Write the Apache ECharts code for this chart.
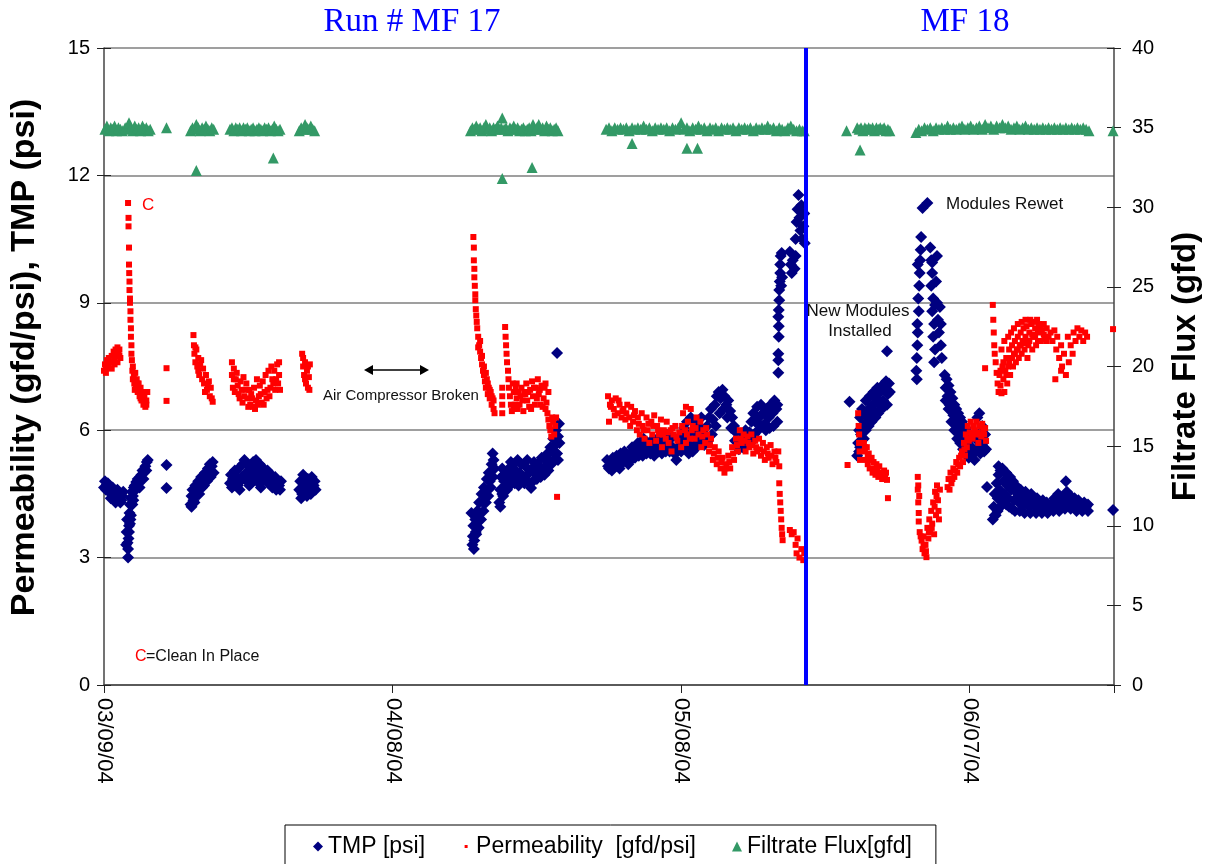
<!DOCTYPE html>
<html>
<head>
<meta charset="utf-8">
<title>MF 17 / MF 18 membrane run</title>
<script src="https://cdn.jsdelivr.net/npm/echarts@6/dist/echarts.min.js"></script>
<style>
  html, body { margin: 0; padding: 0; background: #fff; }
  #chart { width: 1210px; height: 864px; }
</style>
</head>
<body>
<div id="chart"></div>
<script>
// Day offsets are counted from 03/09/04.
const xTickLabels = ['03/09/04', '04/08/04', '05/08/04', '06/07/04'];
const xTickStepDays = 30;
const xMaxDay = 105;
const newModulesDay = 73;

// TMP [psi]: [day, psi]
const tmpData = [
  [0.0,4.65],[0.2,4.6],[0.3,4.72],[0.5,4.55],[0.6,4.68],[0.8,4.5],[1.0,4.58],[1.1,4.45],[1.3,4.52],[1.5,4.4],[1.6,4.5],[1.8,4.35],[1.9,4.45],
  [0.1,4.8],[0.4,4.75],[0.7,4.4],[0.9,4.65],[1.2,4.3],[1.4,4.6],[1.7,4.3],[2.0,4.55],
  [2.3,3.3],[2.35,3.6],[2.4,3.9],[2.5,3.0],[2.5,3.2],[2.55,3.45],[2.6,3.75],[2.65,4.05],[2.7,4.25],[2.75,3.9],[2.8,4.4],[2.9,4.55],[3.0,4.45],[3.1,4.65],[3.2,4.7],[3.35,4.78],[3.5,4.85],[3.6,4.75],[3.75,4.9],[3.9,4.95],[4.0,5.05],[4.15,5.0],[4.3,5.15],[4.45,5.25],[4.55,5.3],
  [2.45,3.35],[2.6,3.6],[2.7,3.8],[2.8,4.0],[2.95,4.25],[3.05,4.35],[3.3,4.6],[3.7,4.65],[4.1,4.85],[4.4,5.05],
  [6.5,5.18],[6.5,4.64],
  [9.0,4.25],[9.1,4.45],[9.2,4.6],[9.3,4.35],[9.4,4.5],[9.5,4.7],[9.7,4.6],[9.8,4.8],[10.0,4.7],[10.1,4.9],[10.3,4.85],[10.5,5.0],[10.6,4.95],[10.8,5.1],[11.0,5.2],[11.2,5.15],[11.4,5.0],
  [9.1,4.2],[9.4,4.3],[9.6,4.45],[9.9,4.5],[10.2,4.65],[10.4,4.7],[10.7,4.8],[10.9,4.95],[11.1,4.9],[11.3,5.25],
  [13.1,4.75],[13.2,4.95],[13.4,4.85],[13.5,4.7],[13.6,5.05],[13.8,4.9],[14.0,5.1],[14.2,4.8],[14.4,5.2],[14.6,5.3],[14.8,5.0],[14.9,4.8],[15.0,5.15],[15.2,4.95],[15.3,4.75],[15.5,5.25],[15.6,5.1],[15.8,5.3],[16.0,5.0],[16.2,5.2],[16.4,4.9],[16.6,5.1],[16.8,4.95],[16.9,4.8],[17.0,5.05],[17.2,4.85],[17.4,4.95],[17.6,4.8],[17.8,4.9],[18.0,4.75],[18.2,4.7],[18.4,4.8],
  [13.3,4.65],[13.9,4.7],[14.1,4.6],[14.3,4.9],[14.7,4.85],[15.1,4.7],[15.4,4.9],[15.7,4.85],[16.1,4.75],[16.3,4.65],[16.5,4.8],[17.1,4.75],[17.5,4.65],[17.9,4.6],[18.3,4.6],
  [20.3,4.6],[20.4,4.8],[20.6,4.5],[20.7,4.95],[20.9,4.7],[21.0,4.55],[21.2,4.85],[21.4,4.65],[21.6,4.9],[21.8,4.7],[22.0,4.6],
  [20.5,4.4],[20.8,4.6],[21.1,4.45],[21.5,4.5],[21.9,4.8],
  [38.2,4.05],[38.3,3.3],[38.35,3.5],[38.4,3.75],[38.5,3.4],[38.6,3.9],[38.65,3.6],[38.8,4.1],[38.9,3.85],[39.0,4.3],[39.1,4.05],[39.25,4.5],[39.4,4.3],[39.5,4.65],[39.6,4.45],[39.8,4.85],[39.9,4.6],[40.0,5.0],[40.1,4.8],[40.3,5.2],[40.4,5.45],[40.5,5.3],
  [38.45,3.2],[38.7,3.55],[38.95,3.7],[39.2,3.9],[39.45,4.1],[39.7,4.3],[39.95,4.45],[40.2,4.65],[40.45,4.9],[40.6,5.1],
  [41.1,4.3],[41.2,4.6],[41.3,4.9],[41.4,5.1],[41.5,4.45],[41.7,4.7],[41.8,5.0],[42.0,4.8],[42.1,5.1],[42.3,5.25],[42.5,4.95],[42.6,5.2],[42.8,5.05],[43.0,5.3],[43.2,5.0],[43.4,5.2],[43.6,4.9],[43.8,5.15],[44.0,5.3],[44.2,5.0],[44.4,4.64],[44.5,5.1],[44.7,5.25],[44.9,4.95],[45.1,5.2],[45.3,5.05],[45.5,5.35],[45.7,5.1],[45.9,5.3],[46.1,5.45],[46.3,5.3],[46.4,5.6],[46.6,5.5],[46.7,5.8],[46.9,5.65],[47.0,6.0],[47.1,5.45],[47.2,5.85],[47.3,6.15],[47.1,7.82],
  [41.2,4.2],[41.4,4.5],[41.6,4.8],[41.9,4.6],[42.2,4.7],[42.4,4.9],[42.7,4.75],[42.9,4.85],[43.1,4.7],[43.3,4.85],[43.7,4.75],[44.1,4.8],[44.6,4.8],[45.0,4.85],[45.4,4.9],[45.8,4.95],[46.0,5.1],[46.2,5.05],[46.5,5.2],[46.8,5.3],[47.2,5.3],[47.35,5.7],
  [52.3,5.3],[52.5,5.1],[52.7,5.2],[52.9,5.35],[53.1,5.2],[53.3,5.4],[53.5,5.25],[53.7,5.45],[53.9,5.3],[54.1,5.5],[54.3,5.35],[54.5,5.2],[54.7,5.45],[54.9,5.6],[55.1,5.4],[55.3,5.55],[55.5,5.7],[55.7,5.5],[55.9,5.65],[56.1,5.8],[56.3,5.55],[56.5,5.7],[56.7,5.6],[56.9,5.75],[57.1,5.5],[57.3,5.65],[57.5,5.8],[57.7,5.6],[57.9,5.75],[58.1,5.55],[58.3,5.7],[58.5,5.9],[58.7,5.65],[58.9,5.8],[59.1,5.6],[59.3,5.45],[59.5,5.3],[59.7,5.6],[59.9,5.75],[60.1,5.9],[60.3,6.05],[60.5,5.8],[60.7,5.6],[60.9,5.9],[61.1,5.7],[61.3,5.95],[61.5,6.15],[61.7,5.85],[61.9,6.1],[62.1,6.3],[62.3,6.0],[62.5,5.8],[62.7,6.1],[62.9,6.3],[63.1,6.5],[63.3,6.25],[63.5,6.6],[63.7,6.8],[63.9,6.9],[64.1,6.75],[64.3,6.95],[64.5,6.8],[64.7,6.6],[64.9,6.7],[65.1,6.45],[65.3,6.3],[65.5,6.1],[65.7,5.95],[65.9,5.8],[66.1,5.7],[66.3,5.9],[66.5,5.75],[66.7,6.0],[66.9,5.8],[67.1,5.95],[67.3,6.2],[67.5,6.4],[67.7,6.2],[67.9,6.55],[68.1,6.3],[68.3,6.6],[68.5,6.4],[68.7,6.15],[68.9,6.5],[69.1,6.3],[69.3,6.6],[69.5,6.4],[69.7,6.7],[69.9,6.5],[70.0,6.2],
  [52.4,5.15],[52.8,5.05],[53.2,5.15],[53.6,5.1],[54.0,5.25],[54.4,5.3],[54.8,5.3],[55.2,5.35],[55.6,5.4],[56.0,5.4],[56.4,5.45],[56.8,5.45],[57.2,5.4],[57.6,5.5],[58.0,5.45],[58.4,5.5],[58.8,5.5],[59.2,5.55],[59.6,5.5],[60.0,5.5],[60.4,5.6],[60.6,6.2],[60.8,5.45],[61.0,6.3],[61.2,5.5],[61.6,5.6],[62.0,5.7],[62.4,5.65],[62.8,5.75],[63.2,5.9],[63.6,6.1],[64.0,6.4],[64.4,6.5],[64.8,6.3],[65.2,6.05],[65.6,5.75],[66.0,5.55],[66.4,5.6],[66.8,5.65],[67.2,5.7],[67.6,5.9],[68.0,6.0],[68.4,6.1],[68.8,6.0],[69.2,6.05],[69.6,6.1],[70.0,6.6],
  [70.1,7.35],[70.1,7.65],[70.1,7.8],[70.15,8.2],[70.15,8.45],[70.1,8.67],[70.15,8.83],[70.2,9.06],[70.2,9.3],[70.25,9.5],[70.3,9.7],[70.3,9.9],[70.35,10.1],[70.45,10.17],[70.5,9.6],[70.4,9.4],
  [71.3,10.2],[71.4,9.9],[71.5,9.7],[71.6,10.0],[71.8,9.8],[71.9,10.1],
  [71.9,10.5],[72.0,10.9],[72.1,11.2],[72.2,11.54],[72.3,11.0],[72.4,10.7],[72.5,11.3],[72.6,10.5],[72.7,10.8],[72.8,11.1],[72.85,10.4],
  [77.5,6.67],
  [78.3,5.4],[78.4,5.7],[78.5,6.0],[78.5,5.5],[78.6,6.3],[78.7,5.9],[78.8,6.5],[78.9,6.1],[79.0,5.8],[79.1,6.4],[79.2,6.7],[79.3,6.2],[79.5,6.5],[79.6,6.8],[79.7,6.3],[79.9,6.6],[80.0,6.9],[80.1,6.45],[80.3,6.75],[80.4,7.0],[80.6,6.6],[80.7,6.9],[80.9,7.05],[81.0,6.7],[81.2,6.95],[81.3,7.15],[81.5,6.85],[81.6,7.1],[81.4,7.86],
  [78.6,5.6],[78.9,5.8],[79.2,6.0],[79.5,6.1],[79.8,6.2],[80.2,6.3],[80.5,6.4],[80.8,6.5],[81.1,6.55],[81.4,6.6],[81.7,6.9],
  [84.5,7.2],[84.45,7.4],[84.5,7.7],[84.55,8.0],[84.6,8.3],[84.55,8.5],[84.7,8.8],[84.65,9.1],[84.75,9.4],[84.8,9.7],[84.85,10.0],[84.9,10.25],[84.95,10.55],[84.6,9.9],[85.1,11.23],[85.6,11.35],
  [85.9,10.3],[86.0,10.0],[86.1,9.7],[86.0,9.4],[86.2,9.1],[86.1,8.8],[86.3,8.5],[86.2,8.2],[86.4,7.9],[86.3,7.6],[86.5,9.5],[86.6,9.0],[86.7,8.6],[86.8,8.3],[86.6,10.1],[86.9,8.9],[87.0,8.0],[87.1,7.7],[87.0,8.5],[86.4,8.95],[86.1,9.95],
  [87.4,7.3],[87.5,7.0],[87.6,7.2],[87.7,6.8],[87.8,7.05],[87.9,6.6],[88.0,6.9],[88.1,6.5],[88.2,6.75],[88.3,6.35],[88.4,6.6],[88.5,6.2],[88.6,6.5],[88.7,6.1],[88.8,6.4],[88.9,6.0],[89.0,6.3],[89.1,5.9],[89.2,6.2],[89.3,5.8],[89.4,6.1],[89.5,5.75],[89.6,6.05],[89.7,5.7],[89.8,5.95],[89.9,5.6],[90.0,5.9],[90.2,5.6],[90.3,5.85],[90.4,5.5],[90.6,5.8],[90.7,5.55],[90.8,6.3],[90.9,5.9],[91.0,6.4],[91.0,5.6],[91.2,5.85],[91.3,6.1],[91.4,5.7],[91.5,5.5],[91.6,5.9],[91.8,4.66],
  [87.5,6.7],[87.8,6.5],[88.1,6.2],[88.4,6.0],[88.7,5.8],[89.0,5.7],[89.3,5.55],[89.6,5.5],[89.9,5.35],[90.2,5.4],[90.5,5.3],[91.1,5.45],[91.4,5.6],[91.7,5.55],
  [92.4,3.9],[92.5,4.2],[92.6,4.5],[92.7,4.0],[92.8,4.75],[92.9,4.4],[93.0,4.95],[93.1,4.6],[93.2,5.05],[93.3,4.35],[93.4,5.1],[93.5,4.8],[93.6,4.5],[93.8,5.0],[93.9,4.7],[94.0,4.4],[94.2,4.9],[94.3,4.6],[94.5,4.8],[94.6,4.35],[94.8,4.7],[95.0,4.5],[95.1,4.3],[95.3,4.6],[95.5,4.4],[95.6,4.25],[95.8,4.55],[96.0,4.35],[96.2,4.2],[96.4,4.5],[96.6,4.3],[96.8,4.2],[97.0,4.4],[97.2,4.25],[97.4,4.15],[97.6,4.35],[97.8,4.2],[98.0,4.3],[98.2,4.15],[98.4,4.25],[98.6,4.2],[98.8,4.4],[99.0,4.25],[99.2,4.5],[99.4,4.3],[99.6,4.2],[99.8,4.4],[100.0,4.8],[100.1,4.55],[100.3,4.3],[100.5,4.45],[100.7,4.25],[100.9,4.4],[101.1,4.2],[101.3,4.35],[101.5,4.25],[101.7,4.15],[101.9,4.3],[102.1,4.2],[102.3,4.25],
  [92.6,4.0],[92.9,4.1],[93.0,5.15],[93.2,4.2],[93.5,4.3],[93.7,5.0],[93.8,4.25],[94.1,4.2],[94.4,4.15],[94.7,4.1],[95.2,4.1],[95.7,4.05],[96.3,4.05],[96.9,4.05],[97.5,4.05],[98.1,4.05],[98.7,4.1],[99.3,4.1],[99.9,4.15],[100.5,4.15],[101.1,4.1],[101.7,4.1],[102.3,4.1],
  [104.9,4.12]
];

// Permeability [gfd/psi]: [day, gfd/psi]
const permData = [
  [0.0,7.4],[0.1,7.55],[0.2,7.45],[0.3,7.65],[0.4,7.5],[0.5,7.7],[0.6,7.6],[0.8,7.75],[0.9,7.6],[1.0,7.85],[1.1,7.7],[1.2,7.9],[1.3,7.75],[1.4,7.95],[1.5,7.8],[1.6,7.9],[1.7,7.7],
  [0.2,7.35],[0.5,7.5],[0.8,7.45],[1.1,7.55],[1.4,7.6],[1.6,7.75],
  [2.5,11.35],[2.55,11.0],[2.55,10.8],[2.6,10.3],[2.6,9.9],[2.62,9.7],[2.65,9.5],[2.65,9.3],[2.7,9.1],[2.7,9.0],[2.75,8.8],[2.75,8.6],[2.8,8.4],[2.8,8.2],[2.85,8.0],[2.85,7.8],[2.9,7.65],[2.95,7.4],[3.0,7.5],[3.1,7.3],[3.15,7.1],[3.25,7.35],[3.3,7.0],[3.4,7.2],[3.5,6.9],[3.6,7.1],[3.7,6.8],[3.8,7.0],[3.9,6.7],[4.0,6.9],[4.1,6.6],[4.2,6.8],[4.3,6.55],[4.4,6.7],
  [3.0,7.2],[3.2,6.95],[3.5,7.1],[3.8,6.75],[4.1,6.85],[4.4,6.6],[4.5,6.9],
  [6.5,7.46],[6.5,6.69],
  [9.3,8.24],[9.35,8.0],[9.4,7.8],[9.5,7.6],[9.6,7.9],[9.7,7.5],[9.8,7.7],[9.9,7.3],[10.0,7.55],[10.2,7.2],[10.3,7.45],[10.4,7.1],[10.6,7.3],[10.7,6.95],[10.9,7.15],[11.0,6.8],[11.1,7.0],[11.3,6.67],
  [9.5,7.95],[9.8,7.4],[10.1,7.65],[10.5,6.9],[10.8,7.05],[11.2,6.75],
  [13.3,7.3],[13.4,7.0],[13.5,7.45],[13.6,6.9],[13.7,7.2],[13.9,7.05],[14.0,6.85],[14.2,7.15],[14.3,6.95],[14.5,7.25],[14.6,6.8],[14.8,7.1],[14.9,6.75],[15.1,6.95],[15.2,6.6],[15.3,6.85],[15.5,6.55],[15.6,7.0],[15.8,6.7],[15.9,7.2],[16.1,6.8],[16.2,7.05],[16.4,6.65],[16.5,7.15],[16.7,6.9],[16.8,7.3],[17.0,6.95],[17.1,7.4],[17.3,7.0],[17.4,7.5],[17.6,7.1],[17.7,7.4],[17.9,7.2],[18.0,7.55],[18.2,7.3],[18.3,6.95],
  [13.3,7.6],[13.5,7.2],[13.8,7.35],[14.1,6.75],[14.4,6.65],[14.7,6.95],[15.0,6.55],[15.4,6.75],[15.7,6.5],[16.0,6.6],[16.3,6.85],[16.6,6.6],[16.9,6.75],[17.2,6.8],[17.5,7.2],[17.8,6.95],[18.1,7.1],[18.2,7.6],
  [20.6,7.8],[20.7,7.5],[20.8,7.3],[20.9,7.6],[21.0,7.1],[21.1,7.4],[21.2,7.0],[21.3,7.25],[21.4,7.55],
  [20.7,7.7],[20.9,7.2],[21.2,7.5],[21.35,6.95],
  [38.4,10.55],[38.45,10.3],[38.45,10.0],[38.5,9.8],[38.5,9.6],[38.55,9.4],[38.6,9.2],[38.6,9.06],[38.65,8.85],[38.7,8.7],[38.75,8.55],[38.8,8.4],[38.9,8.2],[39.0,8.0],[39.1,7.85],[39.2,7.7],[39.3,7.55],[39.4,7.4],[39.5,7.3],[39.6,7.15],[39.7,7.0],[39.8,7.2],[39.9,6.85],[40.0,7.0],[40.1,6.75],[40.2,6.9],[40.3,6.6],[40.4,6.75],[40.5,6.5],[40.6,6.4],
  [38.9,7.95],[39.1,8.1],[39.3,7.75],[39.5,7.5],[39.7,7.35],[39.9,7.1],[40.1,6.95],[40.3,6.8],[40.5,6.7],
  [41.4,7.0],[41.4,6.8],[41.4,6.6],[41.4,6.4],
  [41.7,8.43],[41.75,8.2],[41.8,8.0],[41.85,7.8],[41.9,7.6],[42.0,7.4],[42.05,7.2],[42.1,7.0],[42.2,6.8],[42.3,6.6],[42.4,6.45],[42.5,7.1],[42.6,6.9],[42.7,6.6],[42.8,7.0],[42.9,6.75],[43.0,6.5],[43.1,6.9],[43.2,6.6],[43.4,7.0],[43.5,6.7],[43.6,6.45],[43.8,6.85],[43.9,7.1],[44.0,6.7],[44.2,6.55],[44.3,6.95],[44.5,7.15],[44.6,6.8],[44.8,6.6],[44.9,7.0],[45.1,7.2],[45.2,6.85],[45.4,6.6],[45.5,7.05],[45.7,6.75],[45.8,7.0],[45.9,6.5],[46.0,6.65],[46.1,6.4],[46.2,6.25],[46.3,6.1],[46.4,6.0],[46.5,5.85],[46.6,6.3],[46.7,6.2],[46.8,5.9],[46.9,6.1],[47.0,6.3],[47.1,4.43],
  [42.6,6.5],[42.9,7.1],[43.3,6.8],[43.7,6.9],[44.1,6.9],[44.4,6.5],[44.7,7.0],[45.0,6.75],[45.3,6.95],[45.6,6.55],[45.9,7.1],[46.2,6.9],
  [52.4,6.8],[52.5,6.2],[52.6,6.6],[52.8,6.7],[53.0,6.5],[53.2,6.75],[53.4,6.4],[53.6,6.6],[53.8,6.3],[54.0,6.5],[54.2,6.25],[54.4,6.6],[54.6,6.3],[54.8,6.55],[55.0,6.2],[55.2,6.45],[55.4,6.0],[55.5,6.3],[55.7,5.9],[55.9,6.4],[56.0,6.1],[56.2,5.8],[56.4,6.3],[56.5,6.0],[56.7,5.7],[56.9,6.2],[57.0,5.9],[57.2,6.35],[57.4,5.75],[57.5,6.1],[57.7,5.9],[57.9,6.25],[58.0,5.6],[58.2,6.0],[58.4,5.8],[58.5,6.2],[58.7,5.7],[58.9,6.0],[59.0,5.5],[59.2,5.9],[59.4,6.1],[59.6,5.75],[59.8,5.95],[60.0,5.6],[60.2,6.4],[60.4,6.0],[60.5,5.7],[60.5,6.55],[60.7,6.2],[60.9,5.8],[61.0,6.5],[61.2,6.1],[61.4,5.8],[61.6,6.3],[61.8,5.9],[62.0,6.2],[62.1,5.6],[62.3,6.0],[62.5,5.7],[62.7,5.9],[62.9,5.5],[63.1,5.8],[63.3,5.3],[63.5,5.6],[63.7,5.2],[63.9,5.5],[64.1,5.1],[64.3,5.35],[64.5,5.0],[64.7,5.2],[64.9,5.4],[65.1,5.1],[65.3,5.6],[65.5,5.3],[65.7,5.8],[65.9,5.5],[66.1,6.0],[66.3,5.7],[66.5,5.9],[66.7,5.5],[66.9,5.85],[67.1,5.6],[67.3,5.9],[67.5,5.45],[67.7,5.75],[67.9,5.5],[68.1,5.8],[68.3,5.4],[68.5,5.7],[68.7,5.3],[68.9,5.6],[69.1,5.35],[69.3,5.65],[69.5,5.2],[69.7,5.5],[69.9,5.25],[70.1,5.5],[70.2,5.15],
  [52.7,6.55],[53.1,6.35],[53.5,6.7],[53.9,6.45],[54.3,6.4],[54.7,6.1],[55.1,6.35],[55.6,6.15],[56.1,6.0],[56.6,6.15],[57.1,6.1],[57.6,6.0],[58.1,5.9],[58.6,5.95],[59.1,6.05],[59.5,5.85],[60.1,6.1],[60.6,5.9],[61.1,6.0],[61.5,6.05],[62.2,5.85],[62.6,6.05],[63.0,5.65],[63.4,5.45],[63.8,5.35],[64.2,5.25],[64.6,5.1],[65.0,5.25],[65.4,5.45],[65.8,5.65],[66.2,5.8],[66.6,5.75],[67.0,5.7],[67.4,5.65],[67.8,5.6],[68.2,5.55],[68.6,5.5],[69.0,5.45],[69.4,5.4],[69.8,5.35],
  [70.2,4.75],[70.25,4.5],[70.3,4.3],[70.35,4.1],[70.4,3.9],[70.45,3.7],[70.5,3.55],[70.55,3.41],
  [71.3,3.65],[71.5,3.55],[71.7,3.6],[71.9,3.3],[72.0,3.1],[72.1,3.45],[72.3,3.0],[72.5,3.2],[72.7,2.94],[72.8,3.1],
  [77.3,5.18],
  [78.4,6.4],[78.45,6.1],[78.5,5.9],[78.5,5.7],[78.55,5.5],[78.6,5.3],
  [79.0,5.7],[79.1,5.5],[79.2,5.3],[79.3,5.6],[79.4,5.2],[79.5,5.45],[79.6,5.1],[79.8,5.35],[79.9,5.0],[80.0,5.25],[80.2,4.95],[80.3,5.2],[80.5,4.9],[80.6,5.15],[80.8,5.0],[80.9,4.85],[81.1,5.05],[81.2,4.9],[81.4,4.83],[81.5,4.4],
  [79.1,5.6],[79.4,5.4],[79.7,5.3],[80.1,5.1],[80.4,5.05],[80.7,4.95],[81.0,4.9],[81.3,5.0],
  [84.6,4.9],[84.6,4.6],[84.65,4.3],[84.7,4.05],[84.7,3.85],[84.75,4.45],[84.8,3.6],[85.0,3.4],[85.1,3.2],[85.2,3.5],[85.3,3.1],[85.4,3.3],[85.5,3.01],[85.6,3.7],[85.7,3.45],[85.8,3.9],[85.9,3.6],[86.0,4.1],[86.1,3.8],[86.2,4.3],[86.3,3.55],[86.4,4.55],[86.5,4.0],[86.6,4.7],[86.7,4.35],[86.8,3.9],[86.9,4.6],
  [84.65,4.7],[84.9,3.5],[85.2,3.3],[85.45,3.15],[85.75,3.6],[86.05,3.7],[86.35,4.2],[86.55,4.45],[86.75,4.1],
  [87.7,4.66],[87.8,4.85],[87.9,4.6],[88.0,5.0],[88.1,4.75],[88.3,5.1],[88.4,4.9],[88.6,5.25],[88.7,5.0],[88.9,5.35],[89.0,5.15],[89.2,5.5],[89.3,5.25],[89.4,5.7],[89.5,5.4],[89.6,5.9],[89.7,5.6],[89.8,6.1],[89.9,5.75],[90.0,5.95],[90.1,6.2],[90.3,5.8],[90.4,6.1],[90.6,5.9],[90.7,6.2],[90.9,5.7],[91.0,6.1],[91.2,5.85],[91.3,6.15],[91.5,5.9],[91.6,6.05],[91.7,5.75],[91.6,7.46],
  [88.2,4.85],[88.5,5.05],[88.8,5.2],[89.1,5.4],[89.45,5.55],[89.75,5.8],[90.2,5.9],[90.5,6.0],[90.8,5.95],[91.1,5.9],[91.4,6.0],
  [92.4,8.95],[92.45,8.6],[92.5,8.3],[92.55,8.0],[92.6,7.8],[92.7,7.6],[92.8,7.35],[92.9,7.1],[93.0,6.9],[93.1,7.3],[93.2,7.05],[93.3,6.87],[93.4,7.5],[93.5,7.2],[93.6,6.9],[93.7,7.4],[93.8,7.7],[93.9,7.1],[94.0,7.5],[94.1,7.9],[94.2,7.3],[94.3,7.7],[94.4,8.0],[94.5,7.5],[94.6,7.8],[94.7,8.1],[94.8,7.6],[94.9,7.9],[95.0,8.2],[95.1,7.7],[95.2,8.0],[95.3,8.3],[95.4,7.8],[95.5,8.1],[95.6,8.4],[95.7,7.9],[95.8,8.2],[95.9,8.45],[96.0,7.7],[96.1,8.0],[96.2,8.3],[96.4,8.5],[96.5,7.9],[96.6,8.2],[96.8,8.4],[96.9,8.0],[97.1,8.3],[97.2,8.5],[97.4,8.1],[97.5,8.35],[97.7,8.5],[97.8,8.15],[98.0,8.4],[98.2,8.2],
  [93.2,7.4],[93.3,7.9],[93.5,7.6],[93.6,8.1],[93.8,7.3],[94.0,8.2],[94.1,7.6],[94.3,8.3],[94.4,7.7],[94.6,8.4],[94.7,7.8],[95.0,7.9],[95.0,8.5],[95.3,8.0],[95.4,8.55],[95.6,8.05],[95.8,8.6],[95.9,8.1],[96.2,8.1],[96.3,8.6],[96.5,8.25],[96.7,8.55],[96.8,8.2],[97.0,8.6],[97.1,8.1],[97.4,8.4],[97.7,8.25],[98.0,8.1],
  [98.4,8.3],[98.6,8.1],[98.8,8.35],[98.9,7.2],[99.0,7.9],[99.1,8.2],[99.3,7.7],[99.5,8.0],[99.5,7.4],[99.6,7.5],[99.8,7.8],[100.0,7.3],[100.2,8.2],[100.3,7.6],[100.5,8.0],[100.7,7.8],[100.8,8.3],[101.0,8.1],[101.2,8.4],[101.4,8.2],[101.6,8.35],[101.8,8.1],[102.0,8.3],[102.2,8.2],
  [104.9,8.38]
];

// Filtrate flux [gfd]: [day, gfd]
const fluxData = [
  [0.1,34.9],[0.3,35.1],[0.5,34.8],[0.7,35.0],[0.9,34.9],[1.1,35.1],[1.3,34.8],[1.5,35.0],[1.7,34.9],[1.9,34.8],
  [2.2,35.0],[2.4,34.9],[2.6,35.3],[2.8,35.0],[3.0,34.8],[3.2,35.1],[3.4,34.9],[3.6,35.0],[3.8,34.8],[4.0,35.1],[4.2,34.9],[4.4,35.0],[4.6,34.8],[4.8,34.9],
  [6.5,35.0],
  [9.0,34.8],[9.2,35.0],[9.4,34.9],[9.6,35.2],[9.8,35.0],[10.0,34.8],[10.2,35.0],[10.4,34.9],[10.6,35.1],[10.8,34.9],[11.0,34.8],[11.2,35.0],[11.4,34.9],[9.6,32.3],
  [13.1,34.9],[13.3,35.0],[13.5,34.8],[13.7,35.0],[13.9,34.9],[14.1,35.0],[14.3,34.8],[14.5,35.0],[14.7,34.9],[14.9,35.0],[15.1,34.8],[15.3,34.9],[15.5,35.0],[15.7,34.8],[15.9,34.9],[16.1,35.0],[16.3,34.9],[16.5,34.8],[16.7,35.0],[16.9,34.9],[17.1,35.0],[17.3,34.8],[17.5,34.9],[17.7,35.1],[17.9,34.9],[18.1,34.8],[18.3,34.9],[17.6,33.1],
  [20.3,34.8],[20.5,35.0],[20.7,34.9],[20.9,35.2],[21.1,35.0],[21.3,34.9],[21.5,35.1],[21.7,34.9],[21.9,34.8],
  [38.1,34.8],[38.3,35.0],[38.5,34.9],[38.7,35.1],[38.9,34.9],[39.1,35.0],[39.3,34.8],[39.5,35.0],[39.7,35.2],[39.9,34.9],[40.1,35.0],[40.3,34.8],[40.5,35.0],[40.7,34.9],[40.9,35.1],[41.1,34.9],[41.3,35.0],[41.4,35.6],[41.6,34.9],[41.8,35.0],[42.0,34.8],[42.2,35.0],[42.4,34.9],[42.6,35.1],[42.8,34.9],[43.0,35.0],[43.2,34.8],[43.4,34.9],[43.6,35.0],[43.8,34.8],[44.0,34.9],[44.2,35.0],[44.4,34.8],[44.6,35.2],[44.8,34.9],[45.0,35.0],[45.2,35.2],[45.4,34.9],[45.6,35.0],[45.8,34.8],[46.0,35.1],[46.2,34.9],[46.4,35.0],[46.6,34.8],[46.8,34.9],[47.0,35.0],[47.2,34.8],[41.4,31.8],[44.5,32.5],
  [52.2,34.9],[52.5,35.0],[52.8,34.8],[53.1,35.0],[53.4,34.9],[53.7,35.0],[54.0,34.9],[54.3,35.0],[54.6,34.8],[54.9,35.0],[55.2,34.9],[55.5,35.0],[55.8,34.9],[56.1,35.1],[56.4,34.9],[56.7,35.0],[57.0,34.8],[57.3,35.0],[57.6,34.9],[57.9,35.0],[58.2,34.9],[58.5,35.0],[58.8,34.8],[59.1,35.0],[59.4,34.9],[59.7,35.0],[60.0,35.3],[60.3,34.9],[60.6,35.0],[60.9,34.8],[61.2,35.0],[61.5,34.9],[61.8,35.1],[62.1,34.9],[62.4,35.0],[62.7,34.8],[63.0,35.0],[63.3,34.9],[63.6,35.0],[63.9,34.8],[64.2,35.0],[64.5,34.9],[64.8,35.0],[65.1,34.9],[65.4,35.0],[65.7,34.8],[66.0,35.0],[66.3,34.9],[66.6,35.0],[66.9,34.9],[67.2,35.0],[67.5,34.8],[67.8,35.0],[68.1,34.9],[68.4,35.0],[68.7,34.9],[69.0,35.1],[69.3,34.9],[69.6,35.0],[69.9,34.8],[70.2,35.0],[70.5,34.9],[70.8,34.8],[71.1,35.0],[71.4,35.1],[71.7,34.9],[72.0,34.8],[72.3,34.9],[72.6,34.8],[72.8,34.8],[54.9,34.0],[60.6,33.7],[61.7,33.7],
  [77.2,34.8],[78.3,35.0],[78.5,34.9],[78.7,35.0],[78.9,34.8],[79.1,35.0],[79.3,34.9],[79.5,35.0],[79.7,34.9],[79.9,35.0],[80.1,34.8],[80.3,35.0],[80.5,34.9],[80.7,35.0],[80.9,34.9],[81.1,35.0],[81.3,34.8],[81.5,34.9],[81.7,34.8],[78.6,33.6],
  [84.4,34.7],[84.7,34.9],[85.0,34.8],[85.3,35.0],[85.6,34.9],[85.9,35.0],[86.2,34.8],[86.5,35.0],[86.8,34.9],[87.1,35.0],[87.4,34.9],[87.7,35.1],[88.0,34.9],[88.3,35.0],[88.6,34.9],[88.9,35.0],[89.2,35.1],[89.5,34.9],[89.8,35.0],[90.1,35.1],[90.4,34.9],[90.7,35.0],[91.0,35.1],[91.3,34.9],[91.6,35.2],[91.9,35.0],[92.2,35.1],[92.5,34.9],[92.8,35.1],[93.1,35.0],[93.4,35.2],[93.7,35.0],[94.0,35.1],[94.3,34.9],[94.6,35.0],[94.9,35.1],[95.2,34.9],[95.5,35.0],[95.8,35.1],[96.1,34.9],[96.4,35.0],[96.7,34.9],[97.0,35.0],[97.3,34.9],[97.6,35.0],[97.9,34.9],[98.2,35.0],[98.5,34.9],[98.8,35.0],[99.1,34.9],[99.4,35.0],[99.7,34.9],[100.0,35.0],[100.3,34.9],[100.6,35.0],[100.9,34.9],[101.2,35.0],[101.5,34.9],[101.8,35.0],[102.1,34.9],[102.4,34.8],
  [104.9,34.8]
];

const SANS = '"Liberation Sans", Arial, sans-serif';
const SERIF = '"Liberation Serif", "Times New Roman", serif';

const chart = echarts.init(document.getElementById('chart'), null, { renderer: 'canvas' });

// Small square legend icon: the outer moveTo points keep the drawn square at the centre of a larger box.
const smallSquareIcon = 'path://M0,0M10,10M3.5,3.5h3v3h-3z';

// Plain value axes used only to draw the inner half of the crossing tick marks.
function innerTicks(position, max, interval) {
  return {
    type: 'value',
    position: position,
    min: 0, max: max, interval: interval,
    axisLine: { show: false },
    axisTick: { show: true, inside: true, length: 7, lineStyle: { color: '#222' } },
    axisLabel: { show: false },
    splitLine: { show: false }
  };
}

chart.setOption({
  animation: false,
  backgroundColor: '#ffffff',
  textStyle: { fontFamily: SANS },
  grid: { left: 104, right: 95, top: 48, bottom: 179 },
  xAxis: {
    type: 'value',
    min: 0,
    max: xMaxDay,
    interval: xTickStepDays,
    axisLine: { lineStyle: { color: '#444', width: 1.5 } },
    axisTick: { length: 8, lineStyle: { color: '#222' } },
    axisLabel: {
      rotate: -90,
      fontSize: 22,
      color: '#000',
      margin: 13,
      formatter: v => (v % xTickStepDays === 0 && xTickLabels[v / xTickStepDays] !== undefined) ? xTickLabels[v / xTickStepDays] : ''
    },
    splitLine: { show: false }
  },
  yAxis: [
    {
      type: 'value',
      position: 'left',
      min: 0, max: 15, interval: 3,
      name: 'Permeability (gfd/psi), TMP (psi)',
      nameLocation: 'middle',
      nameGap: 62,
      nameTextStyle: { fontSize: 34, fontWeight: 'bold', color: '#000', fontFamily: SANS, padding: [0, 0, 0, 18] },
      axisLine: { show: true, lineStyle: { color: '#444', width: 1.5 } },
      axisTick: { show: true, length: 7, lineStyle: { color: '#222' } },
      axisLabel: { fontSize: 20, color: '#000', margin: 14 },
      splitLine: { show: true, lineStyle: { color: '#7f7f7f', width: 1.5 } }
    },
    {
      type: 'value',
      position: 'right',
      min: 0, max: 40, interval: 5,
      name: 'Filtrate Flux (gfd)',
      nameLocation: 'middle',
      nameGap: 55,
      nameRotate: 90,
      nameTextStyle: { fontSize: 33, fontWeight: 'bold', color: '#000', fontFamily: SANS },
      axisLine: { show: true, lineStyle: { color: '#444', width: 1.5 } },
      axisTick: { show: true, length: 7, lineStyle: { color: '#222' } },
      axisLabel: { fontSize: 20, color: '#000', margin: 18 },
      splitLine: { show: false }
    },
    innerTicks('right', 40, 5),
    innerTicks('left', 15, 3)
  ],
  legend: {
    left: 285,
    top: 825,
    orient: 'horizontal',
    borderColor: '#000',
    borderWidth: 1,
    padding: [10, 24, 20, 28],
    itemGap: 36,
    itemWidth: 10,
    itemHeight: 10,
    textStyle: { fontSize: 23, color: '#000', fontFamily: SANS },
    data: [
      { name: 'TMP [psi]', icon: 'diamond' },
      { name: 'Permeability  [gfd/psi]', icon: smallSquareIcon },
      { name: 'Filtrate Flux[gfd]', icon: 'triangle' }
    ]
  },
  series: [
    {
      name: 'TMP [psi]',
      type: 'scatter',
      yAxisIndex: 0,
      symbol: 'diamond',
      symbolSize: 12,
      itemStyle: { color: '#000080', opacity: 1 },
      data: tmpData,
      markLine: {
        silent: true,
        symbol: 'none',
        label: { show: false },
        lineStyle: { color: '#0000ff', width: 4, type: 'solid' },
        data: [{ xAxis: newModulesDay }]
      },
      z: 2
    },
    {
      name: 'Permeability  [gfd/psi]',
      type: 'scatter',
      yAxisIndex: 0,
      symbol: 'rect',
      symbolSize: 6,
      itemStyle: { color: '#ff0000', opacity: 1 },
      data: permData,
      z: 3
    },
    {
      name: 'Filtrate Flux[gfd]',
      type: 'scatter',
      yAxisIndex: 1,
      symbol: 'triangle',
      symbolSize: 11,
      itemStyle: { color: '#339966', opacity: 1 },
      data: fluxData,
      z: 4
    }
  ],
  graphic: [
    { type: 'text', x: 412, y: 22, style: { text: 'Run # MF 17', font: '33px ' + SERIF, fill: '#0000ff', textAlign: 'center', textVerticalAlign: 'middle' } },
    { type: 'text', x: 965, y: 22, style: { text: 'MF 18', font: '33px ' + SERIF, fill: '#0000ff', textAlign: 'center', textVerticalAlign: 'middle' } },
    { type: 'text', x: 142, y: 205, style: { text: 'C', font: '17px ' + SANS, fill: '#ff0000', textAlign: 'left', textVerticalAlign: 'middle' } },
    { type: 'text', x: 946, y: 204, style: { text: 'Modules Rewet', font: '17px ' + SANS, fill: '#111', textAlign: 'left', textVerticalAlign: 'middle' } },
    { type: 'text', x: 858, y: 311, style: { text: 'New Modules', font: '17px ' + SANS, fill: '#111', textAlign: 'center', textVerticalAlign: 'middle' } },
    { type: 'text', x: 860, y: 331, style: { text: 'Installed', font: '17px ' + SANS, fill: '#111', textAlign: 'center', textVerticalAlign: 'middle' } },
    { type: 'text', x: 323, y: 396, style: { text: 'Air Compressor Broken', font: '15px ' + SANS, fill: '#111', textAlign: 'left', textVerticalAlign: 'middle' } },
    { type: 'line', shape: { x1: 370, y1: 370, x2: 423, y2: 370 }, style: { stroke: '#000', lineWidth: 1.5 } },
    { type: 'polygon', shape: { points: [[364, 370], [373, 365], [373, 375]] }, style: { fill: '#000' } },
    { type: 'polygon', shape: { points: [[429, 370], [420, 365], [420, 375]] }, style: { fill: '#000' } },
    { type: 'text', x: 135, y: 657, style: { text: 'C', font: '16px ' + SANS, fill: '#ff0000', textAlign: 'left', textVerticalAlign: 'middle' } },
    { type: 'text', x: 146, y: 657, style: { text: '=Clean In Place', font: '16px ' + SANS, fill: '#111', textAlign: 'left', textVerticalAlign: 'middle' } }
  ]
});
</script>
</body>
</html>
